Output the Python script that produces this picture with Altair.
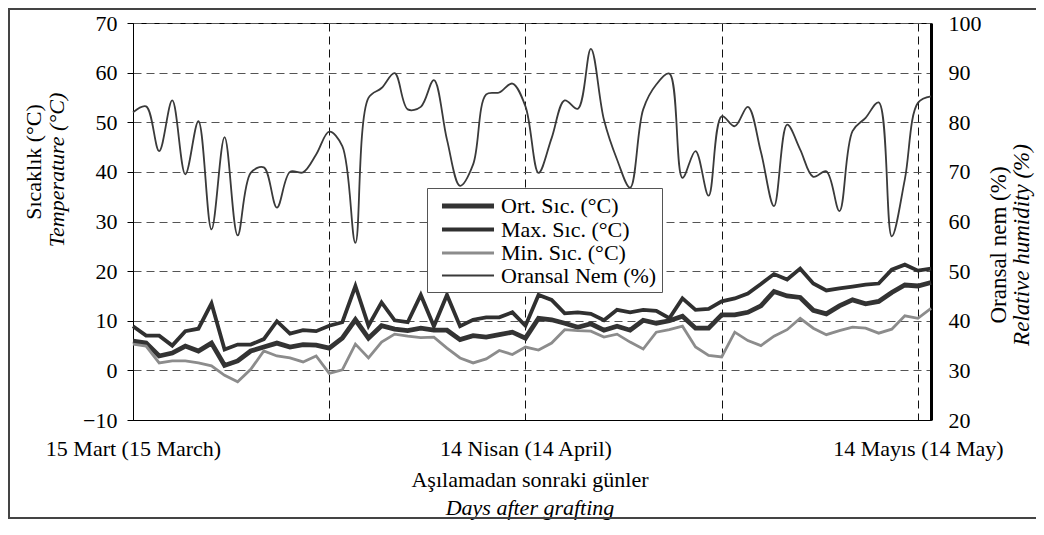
import altair as alt
import pandas as pd

# ---------------- data ----------------
days = list(range(62))  # 0 = 15 March ... 61 = 15 May

ort = [5.9, 5.5, 2.9, 3.5, 4.9, 3.9, 5.5, 1.0, 1.9, 3.9,
       4.7, 5.5, 4.7, 5.2, 5.1, 4.5, 6.5, 10.2, 6.5, 9.0,
       8.3, 8.0, 8.5, 8.1, 8.1, 6.2, 7.0, 6.7, 7.2, 7.7,
       6.5, 10.5, 10.2, 9.5, 8.7, 9.4, 8.1, 8.9, 8.1, 10.1,
       9.5, 10.0, 10.9, 8.5, 8.5, 11.2, 11.2, 11.7, 13.0, 15.9,
       15.0, 14.7, 12.1, 11.4, 13.0, 14.2, 13.4, 13.9, 15.7, 17.2,
       17.0, 17.7]

mx = [8.9, 7.0, 7.0, 5.0, 7.9, 8.4, 13.5, 4.2, 5.2, 5.2,
      6.3, 9.9, 7.4, 8.1, 7.9, 9.0, 9.7, 17.0, 9.0, 13.7,
      10.1, 9.7, 15.2, 8.9, 15.2, 8.9, 10.2, 10.7, 10.7, 11.7,
      9.0, 15.2, 14.2, 11.5, 11.7, 11.4, 10.1, 12.2, 11.7, 12.2,
      12.0, 10.5, 14.5, 12.2, 12.4, 13.9, 14.5, 15.5, 17.4, 19.4,
      18.3, 20.5, 17.5, 16.1, 16.5, 16.9, 17.3, 17.5, 20.3, 21.3,
      20.1, 20.5]

mn = [5.3, 4.9, 1.5, 1.9, 1.9, 1.5, 0.9, -1.0, -2.3, 0.2,
      3.9, 2.9, 2.5, 1.7, 2.9, -0.6, 0.1, 5.3, 2.5, 5.7,
      7.3, 6.9, 6.6, 6.7, 4.5, 2.5, 1.5, 2.3, 4.0, 3.2,
      4.7, 4.1, 5.5, 8.2, 8.0, 7.9, 6.7, 7.3, 5.7, 4.3,
      7.7, 8.2, 8.9, 4.7, 3.0, 2.7, 7.7, 6.0, 5.0, 6.9,
      8.2, 10.5, 8.5, 7.2, 8.0, 8.7, 8.5, 7.5, 8.3, 11.0,
      10.5, 12.5]

nem = [82.0, 83.2, 74.2, 84.4, 69.5, 80.2, 58.4, 77.0, 57.2, 69.8,
       70.9, 62.8, 70.0, 69.9, 73.5, 78.1, 75.2, 55.7, 84.9, 86.9,
       89.9, 82.6, 83.1, 88.5, 76.5, 67.2, 71.5, 85.6, 86.0, 87.8,
       83.2, 69.8, 76.8, 84.4, 82.7, 94.8, 80.5, 72.5, 66.8, 82.6,
       87.6, 89.8, 68.8, 74.2, 65.2, 81.2, 79.2, 83.1, 74.0, 63.1,
       79.5, 74.5, 69.0, 70.1, 62.1, 78.2, 80.9, 84.0, 57.0, 68.5,
       83.9, 85.2]

series_names = ["Ort. Sıc. (°C)", "Max. Sıc. (°C)", "Min. Sıc. (°C)", "Oransal Nem (%)"]
x_grid_values = [0, 15, 30, 45, 60]
x_label_days = [0, 30, 60]
x_label_texts = ["15 Mart (15 March)", "14 Nisan (14 April)", "14 Mayıs (14 May)"]
left_ticks = [-10, 0, 10, 20, 30, 40, 50, 60, 70]
right_ticks = [20, 30, 40, 50, 60, 70, 80, 90, 100]

# ---------------- tables ----------------
temp_df = pd.concat([
    pd.DataFrame({"day": days, "value": ort, "series": series_names[0]}),
    pd.DataFrame({"day": days, "value": mx, "series": series_names[1]}),
    pd.DataFrame({"day": days, "value": mn, "series": series_names[2]}),
], ignore_index=True)
hum_df = pd.DataFrame({"day": days, "value": nem, "series": series_names[3]})

FONT = "Liberation Serif"
FS = 22
W, H = 798, 397

label_expr = " : ".join(
    f"datum.value == {d} ? '{t}'" for d, t in zip(x_label_days, x_label_texts)
) + " : ''"

x_enc = alt.X(
    "day:Q",
    scale=alt.Scale(domain=[0, 61], nice=False, zero=False),
    axis=alt.Axis(
        values=x_grid_values, labelExpr=label_expr, title=None,
        grid=True, gridDash=[8, 5], gridColor="#111111", gridWidth=1,
        ticks=False, domainColor="black", domainWidth=1,
        labelFont=FONT, labelFontSize=FS, labelColor="black",
        labelPadding=18, labelFlush=False, labelOverlap=False, labelBound=False,
    ),
)

color_scale = alt.Scale(domain=series_names,
                        range=["#333333", "#303030", "#8c8c8c", "#3a3a3a"])
width_scale = alt.Scale(domain=series_names, range=[4.8, 1.8, 2.2, 2.4])

legend = alt.Legend(
    orient="none", legendX=294, legendY=165, title=None,
    symbolType="M-2.5,0H2.5", symbolSize=433, labelFont=FONT, labelFontSize=FS,
    labelColor="black", fillColor="white", strokeColor="#555555",
    padding=5, symbolOffset=23, rowPadding=0, labelOffset=20, labelLimit=400,
)

temp = alt.Chart(temp_df).mark_line().encode(
    x=x_enc,
    y=alt.Y(
        "value:Q",
        scale=alt.Scale(domain=[-10, 70], nice=False, zero=False),
        axis=alt.Axis(
            orient="left", values=left_ticks, title=None,
            grid=True, gridDash=[8, 5], gridColor="#555555", gridWidth=1,
            ticks=True, tickSize=6, tickColor="black",
            domainColor="black", domainWidth=1,
            labelFont=FONT, labelFontSize=FS, labelColor="black", labelPadding=10,
        ),
    ),
    color=alt.Color("series:N", scale=color_scale, legend=legend),
    strokeWidth=alt.StrokeWidth("series:N", scale=width_scale, legend=legend),
    detail="series:N",
)

hum = alt.Chart(hum_df).mark_line(interpolate="catmull-rom").encode(
    x=x_enc,
    y=alt.Y(
        "value:Q",
        scale=alt.Scale(domain=[20, 100], nice=False, zero=False),
        axis=alt.Axis(
            orient="right", values=right_ticks, title=None, grid=False,
            ticks=False, domainColor="black", domainWidth=3,
            labelFont=FONT, labelFontSize=FS, labelColor="black", labelPadding=17,
        ),
    ),
    color=alt.Color("series:N", scale=color_scale, legend=legend),
    strokeWidth=alt.StrokeWidth("series:N", scale=width_scale, legend=legend),
)

one = pd.DataFrame({"k": [0]})


def title_text(text, x, y, angle=0, italic=False, size=FS):
    kw = dict(font=FONT, fontSize=size, align="center", baseline="middle", color="black")
    if angle:
        kw["angle"] = angle
    if italic:
        kw["fontStyle"] = "italic"
    return alt.Chart(one).mark_text(**kw).encode(
        x=alt.value(x), y=alt.value(y), text=alt.value(text)
    )


titles = [
    title_text("Sıcaklık (°C)", -99, 139, angle=270),
    title_text("Temperature (°C)", -76, 147, angle=270, italic=True),
    title_text("Oransal nem (%)", 866, 222, angle=270, size=23),
    title_text("Relative humidity (%)", 889, 222, angle=270, italic=True, size=23),
    title_text("Aşılamadan sonraki günler", 397, 457),
    title_text("Days after grafting", 397, 485, italic=True),
]

frame = alt.Chart(one).mark_rect(filled=False, stroke="#444444", strokeWidth=2).encode(
    x=alt.value(-124), x2=alt.value(930), y=alt.value(-14), y2=alt.value(495)
)

chart = alt.layer(hum, temp, *titles, frame).resolve_scale(y="independent").properties(
    width=W, height=H,
    autosize=alt.AutoSizeParams(type="none"),
    padding={"left": 125, "top": 15, "right": 105, "bottom": 100},
    background="white",
).configure_view(stroke="black", strokeWidth=1)

chart.save("out.html", embed_options={"renderer": "svg", "actions": False})
